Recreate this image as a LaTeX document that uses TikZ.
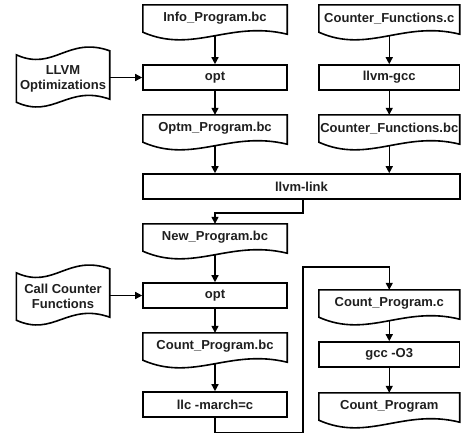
\documentclass[tikz,border=0pt]{standalone}
\usepackage{fontspec}
\setmainfont{Liberation Sans}
\usetikzlibrary{arrows.meta,calc}
\pgfdeclarelayer{bg}
\pgfdeclarelayer{outline}
\pgfsetlayers{bg,outline,main}

\tikzset{
  every node/.style={font=\fontsize{13}{15}\selectfont\bfseries, text=black!88},
  procbox/.style={draw, fill=white, line width=1.6pt, minimum height=25pt, inner sep=0pt},
  leftcol/.style={minimum width=144pt},
  rightcol/.style={minimum width=140.5pt},
  docnode/.style={minimum height=27pt, inner sep=0pt},
  tapenode/.style={minimum width=93pt, minimum height=47pt, inner sep=0pt, align=center},
  shapeline/.style={draw, line width=1.6pt, fill=white, line join=miter},
  flow/.style={line width=1.4pt, -{Triangle[length=7pt,width=7pt]}},
}

% outline of a document symbol: flat top, wavy bottom
\newcommand{\docoutline}[1]{%
  \begin{pgfonlayer}{outline}
    \path[shapeline] (#1.north west) -- (#1.north east) -- ($(#1.south east)+(0,2)$)
      .. controls ($(#1.south west)!0.6!(#1.south east)+(0,-12)$)
      and ($(#1.south west)!0.35!(#1.south east)+(0,22)$) .. (#1.south west) -- cycle;
  \end{pgfonlayer}}

% outline of a punched-tape symbol: wavy top and bottom
\newcommand{\tapeoutline}[1]{%
  \begin{pgfonlayer}{outline}
    \path[shapeline] (#1.north west)
      .. controls ($(#1.north west)!0.4!(#1.north east)+(0,17)$)
      and ($(#1.north west)!0.55!(#1.north east)+(0,-19)$) .. ($(#1.north east)+(0,-4)$)
      -- ($(#1.south east)+(0,-3)$)
      .. controls ($(#1.south west)!0.55!(#1.south east)+(0,-18)$)
      and ($(#1.south west)!0.4!(#1.south east)+(0,17)$) .. (#1.south west) -- cycle;
  \end{pgfonlayer}}

\begin{document}
\begin{tikzpicture}[x=1pt, y=-1pt]
\useasboundingbox (0,0) rectangle (461,434);

% left column
\node[docnode, leftcol] (info) at (215,18.5) {Info\_Program.bc};
\node[procbox, leftcol] (opta) at (215,77.5) {opt};
\node[docnode, leftcol] (optm) at (215,128.5) {Optm\_Program.bc};
\node[procbox, minimum width=317pt] (llink) at (301.5,186.5) {llvm-link};
\node[docnode, leftcol] (newprog) at (215,237.5) {New\_Program.bc};
\node[procbox, leftcol] (optb) at (215,295.5) {opt};
\node[docnode, leftcol] (countbc) at (215,346.5) {Count\_Program.bc};
\node[procbox, leftcol] (llc) at (215,404.5) {llc -march=c};

% right column
\node[docnode, rightcol] (cfc) at (389.25,18.5) {Counter\_Functions.c};
\node[procbox, rightcol] (llvmgcc) at (389.25,77.5) {llvm-gcc};
\node[docnode, rightcol] (cfbc) at (389.25,128.5) {Counter\_Functions.bc};
\node[docnode, rightcol] (countc) at (389.25,303.5) {Count\_Program.c};
\node[procbox, rightcol] (gcc) at (389.25,354.5) {gcc -O3};
\node[docnode, rightcol] (countprog) at (389.25,406.5) {Count\_Program};

% side inputs
\node[tapenode] (llvmopt) at (63,78.5) {LLVM\\Optimizations};
\node[tapenode] (callcf) at (63,296.5) {Call Counter\\Functions};

\foreach \n in {info,optm,newprog,countbc,cfc,cfbc,countc,countprog} {\docoutline{\n}}
\tapeoutline{llvmopt}
\tapeoutline{callcf}

% bends of the routed connectors
\coordinate (loopbot) at (303,432.5);
\coordinate (looptop) at (303,267);

\begin{pgfonlayer}{bg}
  \draw[flow] (info.south) -- (opta.north);
  \draw[flow] (llvmopt.east |- opta.west) -- (opta.west);
  \draw[flow] (opta.south) -- (optm.north);
  \draw[flow] (optm.south) -- (optm.south |- llink.north);
  \draw[flow] (cfc.south) -- (llvmgcc.north);
  \draw[flow] (llvmgcc.south) -- (cfbc.north);
  \draw[flow] (cfbc.south) -- (cfbc.south |- llink.north);
  \draw[flow] ([xshift=1.5pt]llink.south) -- ++(0,13) -| (newprog.north);
  \draw[flow] (newprog.south) -- (optb.north);
  \draw[flow] (callcf.east |- optb.west) -- (optb.west);
  \draw[flow] (optb.south) -- (countbc.north);
  \draw[flow] (countbc.south) -- (llc.north);
  \draw[flow] (llc.south) |- (loopbot) -- (looptop) -| (countc.north);
  \draw[flow] (countc.south) -- (gcc.north);
  \draw[flow] (gcc.south) -- (countprog.north);
\end{pgfonlayer}
\end{tikzpicture}
\end{document}
